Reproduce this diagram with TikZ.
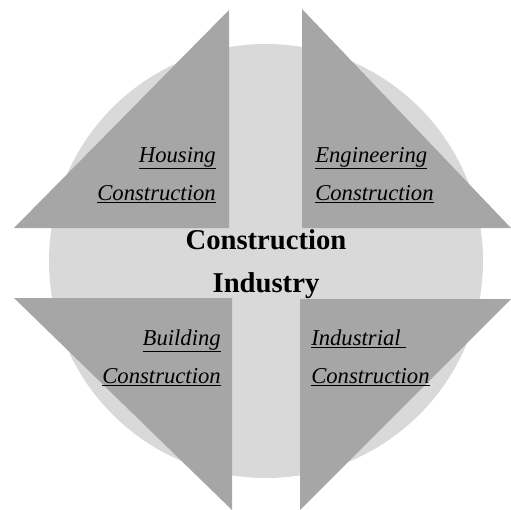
\documentclass[tikz,border=0pt]{standalone}
\usepackage{fontspec}
\setmainfont{Liberation Serif}
\usetikzlibrary{positioning}
\definecolor{discgray}{HTML}{D9D9D9}
\definecolor{wedgegray}{HTML}{A6A6A6}
\begin{document}
\begin{tikzpicture}[x=0.75pt,y=-0.75pt]
  \tikzset{wedge/.style={fill=wedgegray,draw=none},
    sector/.style={inner sep=0pt,font=\fontsize{17}{28.5}\selectfont\itshape},
    core/.style={inner sep=0pt,align=center,font=\fontsize{21.5}{32}\selectfont\bfseries}}
  \useasboundingbox (0,0) rectangle (511,510);
  % background disc
  \node [circle,fill=discgray,inner sep=0pt,minimum size=325.5pt] (disc) at (266,261) {};
  % four wedges
  \fill[wedge] (229,10) -- (14,228) -- (229,228) -- cycle;
  \fill[wedge] (302,9) -- (511,228) -- (302,228) -- cycle;
  \fill[wedge] (14,298) -- (232,298) -- (232,510) -- cycle;
  \fill[wedge] (300,299) -- (511,299) -- (300,510) -- cycle;
  % labels
  \node [core] (industry) at (266,264) {Construction\\Industry};
  \node [sector,align=right,anchor=base east]  (housing)    at (216,200) {\underline{Housing}\\\underline{Construction}};
  \node [sector,align=left,anchor=base west]   (engineering) at (315,200) {\underline{Engineering}\\\underline{Construction}};
  \node [sector,align=right,anchor=base east]  (building)   at (221,383) {\underline{Building}\\\underline{Construction}};
  \node [sector,align=left,anchor=base west]   (industrial) at (311,383) {\underline{Industrial\ }\\\underline{Construction}};
\end{tikzpicture}
\end{document}
